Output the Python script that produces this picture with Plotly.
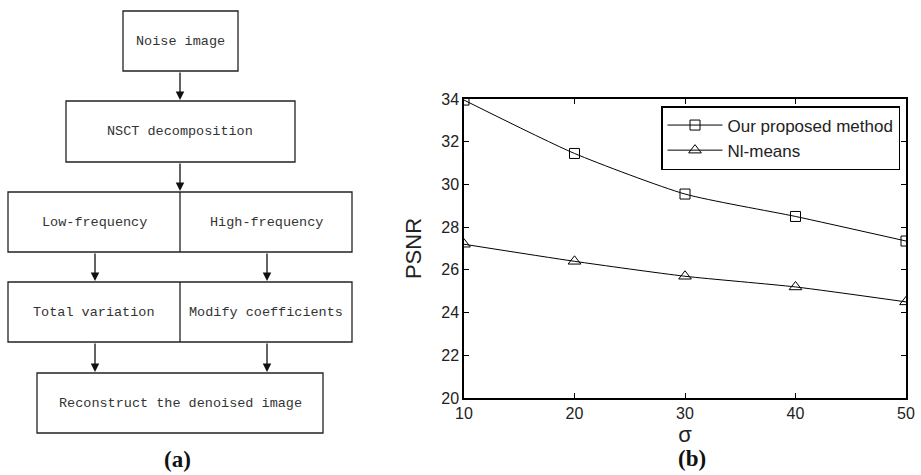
import plotly.graph_objects as go

# ---- data ----
sigma = [10, 20, 30, 40, 50]
psnr_ours = [33.95, 31.45, 29.55, 28.5, 27.35]
psnr_nlmeans = [27.2, 26.4, 25.7, 25.2, 24.5]
series_names = ["Our proposed method", "Nl-means"]
y_ticks = [20, 22, 24, 26, 28, 30, 32, 34]
x_ticks = [10, 20, 30, 40, 50]

# flowchart labels
flow_labels = ["Noise image", "NSCT decomposition", "Low-frequency", "High-frequency",
               "Total variation", "Modify coefficients", "Reconstruct the denoised image"]

W, H = 921, 475


def px(x):
    return x / W


def py(y):
    return 1 - y / H


fig = go.Figure()

fig.add_trace(go.Scatter(
    x=sigma, y=psnr_ours, name=series_names[0], mode="lines+markers",
    line=dict(color="black", width=1, shape="spline", smoothing=0.6),
    marker=dict(symbol="square-open", size=10, color="black", line=dict(width=1)),
))
fig.add_trace(go.Scatter(
    x=sigma, y=psnr_nlmeans, name=series_names[1], mode="lines+markers",
    line=dict(color="black", width=1, shape="spline", smoothing=0.6),
    marker=dict(symbol="triangle-up-open", size=11, color="black", line=dict(width=1)),
))

x0, x1 = 464, 906
ytop, ybot = 99, 398

fig.update_layout(
    width=W, height=H,
    margin=dict(l=0, r=0, t=0, b=0),
    paper_bgcolor="white", plot_bgcolor="white",
    font=dict(family="Arial, Liberation Sans, sans-serif", color="#222", size=16),
    showlegend=True,
    legend=dict(x=px(900), y=py(106), xanchor="right", yanchor="top",
                bordercolor="black", borderwidth=1.5, bgcolor="white",
                font=dict(size=17, color="#222"), tracegroupgap=0,
                itemwidth=55),
    xaxis=dict(domain=[px(x0), px(x1)], range=[10, 50], tickvals=x_ticks,
               ticks="inside", ticklen=5, tickcolor="black", showline=True,
               linecolor="black", linewidth=1.5, mirror="ticks", showgrid=False,
               zeroline=False, tickfont=dict(size=16), automargin=False,
               title=dict(text="σ", font=dict(size=22), standoff=0)),
    yaxis=dict(domain=[py(ybot), py(ytop)], range=[20, 34], tickvals=y_ticks,
               ticks="inside", ticklen=5, tickcolor="black", showline=True,
               linecolor="black", linewidth=1.5, mirror="ticks", showgrid=False,
               zeroline=False, tickfont=dict(size=16), automargin=False,
               title=dict(text="PSNR", font=dict(size=22), standoff=14)),
)

# flowchart geometry (pixels, converted to paper)
boxes = [
    (123, 11, 238, 71),
    (66, 101, 295, 162),
    (8, 192, 352, 252),
    (8, 282, 352, 342),
    (37, 373, 323, 433),
]
for (bx0, by0, bx1, by1) in boxes:
    fig.add_shape(type="rect", x0=px(bx0), y0=py(by0), x1=px(bx1), y1=py(by1),
                  xref="paper", yref="paper",
                  line=dict(color="#222", width=1.3), fillcolor="rgba(0,0,0,0)")
for (dy0, dy1) in [(192, 252), (282, 342)]:
    fig.add_shape(type="line", x0=px(180), x1=px(180), y0=py(dy0), y1=py(dy1),
                  xref="paper", yref="paper", line=dict(color="#222", width=1.3))

text_pos = [(180, 41), (180, 131), (94, 222), (266, 222), (94, 312), (266, 312), (180, 403)]
for lbl, (tx, ty) in zip(flow_labels, text_pos):
    fig.add_annotation(x=px(tx), y=py(ty), xref="paper", yref="paper", text=lbl,
                       showarrow=False, xanchor="center", yanchor="middle",
                       font=dict(family="Liberation Mono, monospace", size=13.5, color="#333"))

arrows = [
    (180, 71, 100),
    (180, 162, 191),
    (95, 252, 281),
    (267, 252, 281),
    (95, 342, 372),
    (267, 342, 372),
]
for (ax_, ay0, ay1) in arrows:
    fig.add_annotation(x=px(ax_), y=py(ay1), xref="paper", yref="paper",
                       ax=0, ay=-(ay1 - ay0), axref="pixel", ayref="pixel",
                       showarrow=True, arrowhead=2, arrowsize=1.3, arrowwidth=1.3,
                       arrowcolor="#111", text="")

fig.add_annotation(x=px(177), y=py(459), xref="paper", yref="paper", text="<b>(a)</b>",
                   showarrow=False, xanchor="center", yanchor="middle",
                   font=dict(family="Liberation Serif, serif", size=23, color="#111"))
fig.add_annotation(x=px(692), y=py(458), xref="paper", yref="paper", text="<b>(b)</b>",
                   showarrow=False, xanchor="center", yanchor="middle",
                   font=dict(family="Liberation Serif, serif", size=23, color="#111"))

fig.write_html("out.html", config={"displayModeBar": False},
               post_script="document.body.style.margin='0px';document.body.style.overflow='hidden';")
